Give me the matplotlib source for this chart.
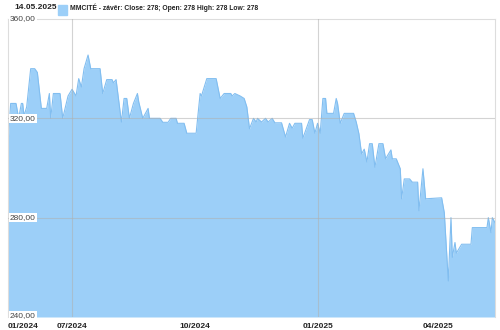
import numpy as np
import pandas as pd
import matplotlib
matplotlib.use('Agg')
import matplotlib.pyplot as plt
import matplotlib.transforms as mtransforms

plt.rcParams['font.family'] = ['Liberation Sans', 'DejaVu Sans']

# ==> Data (price breakpoints)
dates = [
    '2024-05-14', '2024-05-16', '2024-05-20', '2024-05-22', '2024-05-24', '2024-05-25',
    '2024-05-26', '2024-05-28', '2024-05-31', '2024-06-03', '2024-06-05', '2024-06-08',
    '2024-06-12', '2024-06-14', '2024-06-15', '2024-06-17', '2024-06-22', '2024-06-24',
    '2024-06-28', '2024-07-01', '2024-07-04', '2024-07-06', '2024-07-08', '2024-07-10',
    '2024-07-13', '2024-07-15', '2024-07-22', '2024-07-24', '2024-07-27', '2024-07-31',
    '2024-08-01', '2024-08-03', '2024-08-07', '2024-08-09', '2024-08-11', '2024-08-13',
    '2024-08-16', '2024-08-19', '2024-08-20', '2024-08-23', '2024-08-27', '2024-08-28',
    '2024-09-05', '2024-09-07', '2024-09-11', '2024-09-13', '2024-09-17', '2024-09-18',
    '2024-09-23', '2024-09-25', '2024-10-02', '2024-10-05', '2024-10-06', '2024-10-10',
    '2024-10-17', '2024-10-20', '2024-10-23', '2024-10-28', '2024-10-29', '2024-10-31',
    '2024-11-04', '2024-11-07', '2024-11-09', '2024-11-11', '2024-11-14', '2024-11-16',
    '2024-11-17', '2024-11-20', '2024-11-23', '2024-11-25', '2024-11-28', '2024-11-30',
    '2024-12-05', '2024-12-08', '2024-12-11', '2024-12-13', '2024-12-15', '2024-12-20',
    '2024-12-21', '2024-12-26', '2024-12-28', '2024-12-30', '2025-01-01', '2025-01-03',
    '2025-01-05', '2025-01-07', '2025-01-08', '2025-01-13', '2025-01-15', '2025-01-16',
    '2025-01-18', '2025-01-21', '2025-01-28', '2025-01-30', '2025-02-01', '2025-02-03',
    '2025-02-05', '2025-02-07', '2025-02-09', '2025-02-11', '2025-02-13', '2025-02-16',
    '2025-02-19', '2025-02-21', '2025-02-25', '2025-02-26', '2025-03-01', '2025-03-04',
    '2025-03-05', '2025-03-07', '2025-03-11', '2025-03-13', '2025-03-17', '2025-03-18',
    '2025-03-21', '2025-03-23', '2025-04-04', '2025-04-06', '2025-04-09', '2025-04-11',
    '2025-04-12', '2025-04-14', '2025-04-15', '2025-04-19', '2025-04-26', '2025-04-27',
    '2025-05-08', '2025-05-09', '2025-05-11', '2025-05-12', '2025-05-14',
]
close = [
    310, 326, 326, 320, 326, 326,
    321, 324.6, 340, 340, 338.5, 324,
    324, 330, 320, 330, 330, 320,
    329, 331.7, 329, 336, 332.6, 340,
    345.5, 340, 340, 330, 335.6, 335.6,
    334.3, 335.6, 318.5, 328, 328, 320,
    326, 330, 326.6, 320, 324, 320,
    320, 318.4, 318.4, 320, 320, 318,
    318, 314, 314, 330, 329, 336,
    336, 328, 330, 330, 329, 330,
    329, 328, 324.6, 315.8, 320, 318.5,
    320, 318.5, 320, 318.5, 320, 318.2,
    318.2, 312.5, 318, 316, 318, 318,
    312, 319.5, 319.5, 314, 318, 314,
    328, 328, 322, 322, 328, 326,
    318, 322, 322, 318.5, 313.8, 305.7,
    307.6, 302.4, 309.8, 309.8, 300.3, 309.8,
    309.8, 303.7, 307.3, 303.7, 303.7, 299.7,
    287.6, 295.6, 295.6, 294.3, 294.3, 282.8,
    299.7, 287.6, 288, 282, 254.5, 280,
    264, 270, 265.7, 269.3, 269.3, 276,
    276, 280, 274, 280, 278,
]

tick_dates = ['2024-05-14', '2024-07-01', '2024-10-01', '2025-01-01', '2025-04-01']
tick_labels = ['01/2024', '07/2024', '10/2024', '01/2025', '04/2025']
grid_dates = ['2024-07-01', '2025-01-01']
y_levels = [240, 280, 320, 360]

title_date = '14.05.2025'
legend_text = 'MMCITÉ - závěr: Close: 278; Open: 278 High: 278 Low: 278'

x = pd.to_datetime(dates)

fig = plt.figure(figsize=(5, 3.3), dpi=100)
ax = fig.add_axes([0.016, 0.0394, 0.974, 0.903])

ax.fill_between(x, close, 240, color='#9ccff8', lw=0, zorder=1)
ax.plot(x, close, color='#82bef0', lw=0.8, zorder=2)

ax.set_xlim(pd.Timestamp('2024-05-14'), pd.Timestamp('2025-05-14'))
ax.set_ylim(240, 360)

# gridlines drawn over the fill
for v in y_levels[1:3]:
    ax.axhline(v, color='#b0b0b0', lw=0.8, alpha=0.55, zorder=3)
for d in grid_dates:
    ax.axvline(pd.Timestamp(d), color='#b0b0b0', lw=0.8, alpha=0.55, zorder=3)

for s in ['left', 'top', 'right']:
    ax.spines[s].set_color('#dddddd')
    ax.spines[s].set_linewidth(0.8)
ax.spines['bottom'].set_visible(False)

ax.set_yticks([])
ax.set_xticks(pd.to_datetime(tick_dates))
ax.set_xticklabels(tick_labels, fontsize=6, fontweight='bold', color='#222222')
ax.tick_params(axis='x', length=0, pad=4)
ax.get_xticklabels()[0].set_ha('left')

# y labels sit inside the plot on white boxes
trans = mtransforms.blended_transform_factory(ax.transAxes, ax.transData)
for v in y_levels:
    yv = v + 0.6 if v == 240 else v
    ax.text(0.004, yv, f'{v},00', transform=trans, ha='left', va='center',
            fontsize=6, color='#444444', zorder=5,
            bbox=dict(boxstyle='square,pad=0.1', fc='white', ec='none'))

fig.text(0.028, 0.978, title_date, fontsize=6, fontweight='bold', color='#222222',
         ha='left', va='center')
fig.patches.append(plt.Rectangle((0.116, 0.955), 0.017, 0.03, color='#9ccff8',
                                 transform=fig.transFigure, figure=fig))
fig.text(0.14, 0.978, legend_text, fontsize=4.9, fontweight='bold', color='#222222',
         ha='left', va='center')

fig.savefig('out.png', dpi=100)
